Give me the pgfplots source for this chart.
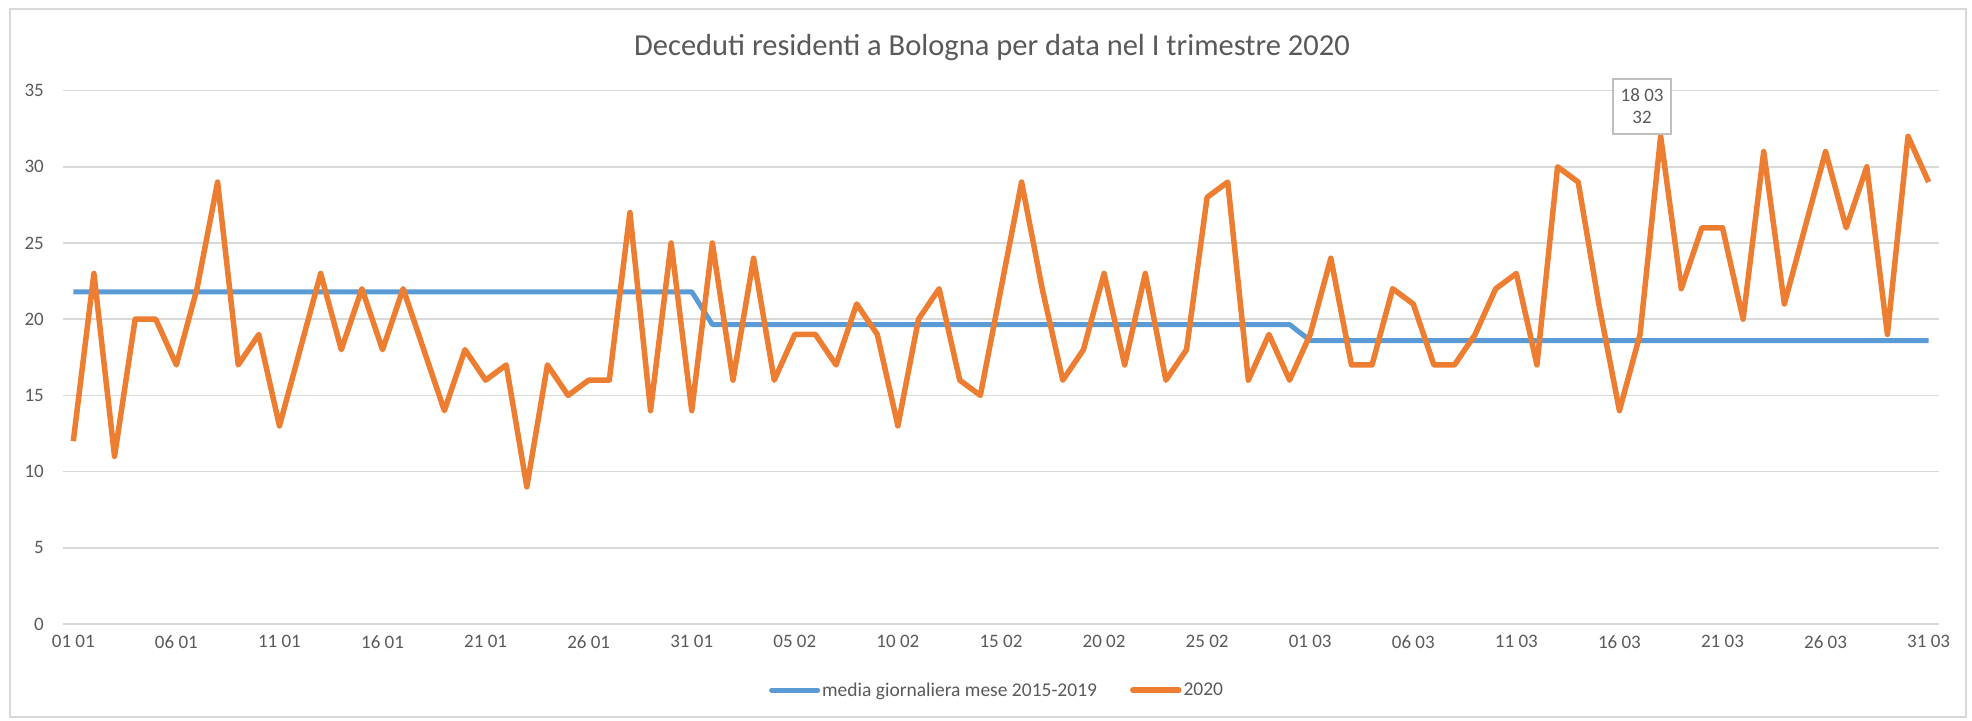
\documentclass[border=0pt]{standalone}
\usepackage{pgfplots}
\usepackage{pgfplotstable}
\pgfplotsset{compat=1.18}
\usepackage{fontspec}
\setmainfont{Carlito}
\definecolor{cblue}{HTML}{5B9BD5}
\definecolor{corange}{HTML}{ED7D31}
\definecolor{gridc}{HTML}{D9D9D9}
\definecolor{boxc}{HTML}{BFBFBF}
\definecolor{txt}{HTML}{595959}

\pgfplotstableread{
d v
0 12
1 23
2 11
3 20
4 20
5 17
6 22
7 29
8 17
9 19
10 13
11 18
12 23
13 18
14 22
15 18
16 22
17 18
18 14
19 18
20 16
21 17
22 9
23 17
24 15
25 16
26 16
27 27
28 14
29 25
30 14
31 25
32 16
33 24
34 16
35 19
36 19
37 17
38 21
39 19
40 13
41 20
42 22
43 16
44 15
45 22
46 29
47 22
48 16
49 18
50 23
51 17
52 23
53 16
54 18
55 28
56 29
57 16
58 19
59 16
60 19
61 24
62 17
63 17
64 22
65 21
66 17
67 17
68 19
69 22
70 23
71 17
72 30
73 29
74 21
75 14
76 19
77 32
78 22
79 26
80 26
81 20
82 31
83 21
84 26
85 31
86 26
87 30
88 19
89 32
90 29
}\datatwenty

\pgfplotstableread{
d v
0 21.8
30 21.8
31 19.65
59 19.65
60 18.6
90 18.6
}\datamedia

\begin{document}
\begin{tikzpicture}[x=1pt,y=1pt]
\useasboundingbox (0,0) rectangle (1972,720);
\draw[gridc, line width=1.5pt] (10,3) rectangle (1966,711);
\node[text=txt, font=\fontsize{30.5}{36}\selectfont] at (992,672) {Deceduti residenti a Bologna per data nel I trimestre 2020};
\begin{axis}[
  at={(63pt,96pt)}, anchor=south west, scale only axis,
  width=1876pt, height=533.4pt,
  xmin=-0.5, xmax=90.5, ymin=0, ymax=35,
  axis line style={draw=none},
  ytick={0,5,...,35},
  ymajorgrids, grid style={gridc, line width=1.5pt},
  xtick={0,5,...,90},
  xticklabels={01 01,06 01,11 01,16 01,21 01,26 01,31 01,05 02,10 02,15 02,20 02,25 02,01 03,06 03,11 03,16 03,21 03,26 03,31 03},
  major tick length=0pt, tick style={draw=none},
  ticklabel style={font=\fontsize{19}{23}\selectfont, text=txt, inner sep=0pt},
  yticklabel style={anchor=east, xshift=-19pt},
  xticklabel style={anchor=north, yshift=-11pt},
  /pgf/number format/assume math mode=true,
  clip=false,
  legend columns=2,
  legend style={draw=none, fill=none, at={(0.3763,-0.124)}, anchor=west,
    font=\fontsize{19.5}{23}\selectfont, text=txt,
    nodes={inner sep=2pt},
    /tikz/every even column/.append style={column sep=31pt},
    inner sep=0pt},
  legend image code/.code={\draw[#1, line cap=round] (0pt,0pt) -- (46pt,0pt);},
]
\addplot[cblue, line width=5pt, line join=round] table[x=d, y=v] {\datamedia};
\addlegendentry{media giornaliera mese 2015-2019}
\addplot[corange, line width=5.5pt, line join=round] table[x=d, y=v] {\datatwenty};
\addlegendentry{2020}
\node[draw=boxc, line width=1.5pt, fill=white, text=txt, align=center,
  font=\fontsize{19}{22}\selectfont, anchor=south, minimum width=58pt, minimum height=55pt, inner sep=0pt]
  at (axis cs:76.1,32.1) {18 03\\32};
\end{axis}
\end{tikzpicture}
\end{document}
